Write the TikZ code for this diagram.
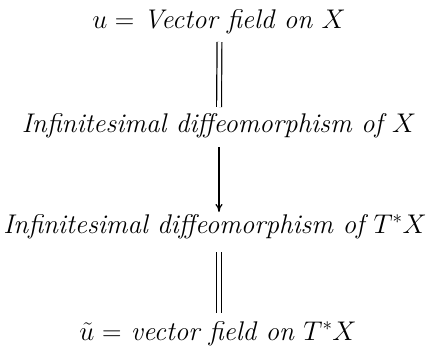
\RequirePackage{fix-cm}
\documentclass[tikz,border=0pt]{standalone}
\usepackage{amsmath,amssymb}
\usetikzlibrary{positioning,arrows.meta}

\begin{document}
\begin{tikzpicture}[x=1pt,y=1pt,
			lbl/.style={inner sep=0pt, font=\fontsize{27}{32}\selectfont\itshape, anchor=base},
			equal/.style={double, double distance=3.6pt, line width=1.2pt},
			arrow/.style={-{To[length=8pt,width=7pt]}, line width=1.2pt}]
			
			\useasboundingbox (0,0) rectangle (429,-348);
			
			\node[lbl] (u) at (219,-28) {$u =$ Vector field on $X$};
			\node[lbl, below=104pt of u.base, anchor=base] (infx) {Infinitesimal diffeomorphism of $X$};
			\node[lbl, below=101pt of infx.base, anchor=base, xshift=-4pt] (inft) {Infinitesimal diffeomorphism of $T^*X$};
			\node[lbl, below=107pt of inft.base, anchor=base, xshift=3pt] (ut) {$\tilde u =$ vector field on $T^*X$};
			
			\draw[equal] ([xshift=0.5pt,yshift=-14pt]u.base) -- ([yshift=25pt]infx.base -| u.base);
			\draw[arrow] ([yshift=-15pt]infx.base -| u.base) -- ([yshift=21pt]inft.base -| u.base);
			\draw[equal] ([yshift=-19pt]inft.base -| u.base) -- ([yshift=27pt]ut.base -| u.base);
			
		\end{tikzpicture}
\end{document}
